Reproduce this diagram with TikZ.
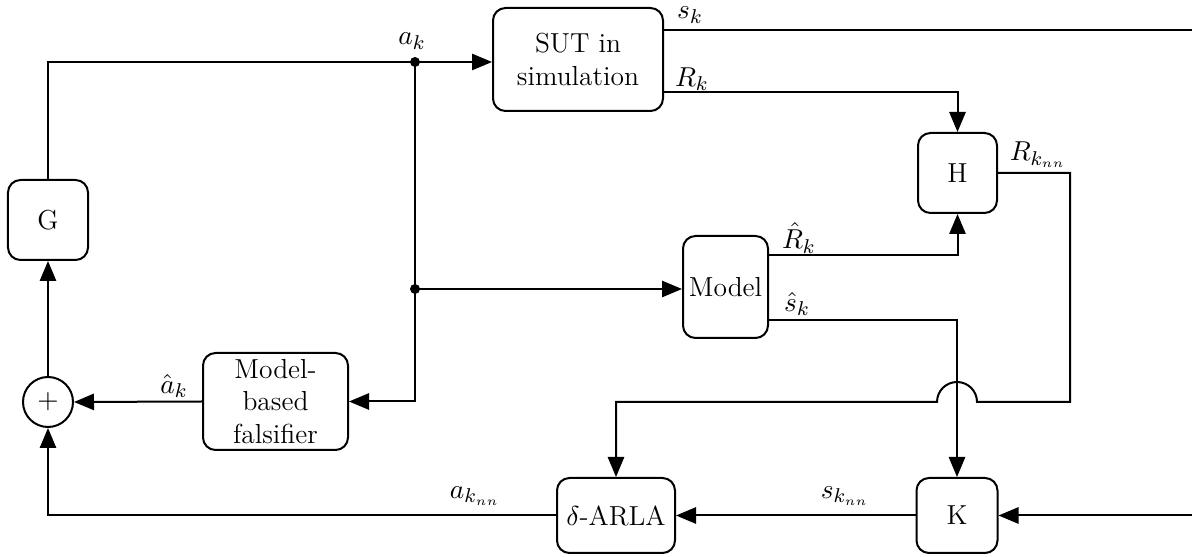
\documentclass[tikz,border=0pt]{standalone}
\usetikzlibrary{arrows.meta,calc}
\begin{document}
\begin{tikzpicture}[x=0.4pt,y=-0.4pt,font=\fontsize{11}{13}\selectfont,
  blk/.style={draw,line width=0.8pt,rounded corners=5pt,align=center,inner sep=1pt},
  sumc/.style={draw,line width=0.8pt,circle,minimum size=20pt,inner sep=0pt},
  wire/.style={line width=0.8pt},
  arr/.style={wire,-{Triangle[length=8pt,width=6.5pt]}},
  dotn/.style={circle,fill,inner sep=0pt,minimum size=4pt},
  lbl/.style={inner sep=0pt}]
\useasboundingbox (0,0) rectangle (1192,557);
% nodes
\node[blk,minimum width=68pt,minimum height=41.2pt] (sut) at (578,59.5) {SUT in\\simulation};
\node[blk,minimum width=31.6pt,minimum height=32pt] (h) at (957.5,173) {H};
\node[blk,minimum width=32pt,minimum height=32pt] (g) at (48,220) {G};
\node[blk,minimum width=34pt,minimum height=40.8pt] (model) at (725.5,287) {Model};
\node[sumc] (sum) at (48,402) {$+$};
\node[blk,minimum width=58pt,minimum height=38.8pt] (fals) at (275.5,401.5) {Model-\\based\\falsifier};
\node[blk,minimum width=47.2pt,minimum height=30pt] (arla) at (616,515.5) {$\delta$-ARLA};
\node[blk,minimum width=32.4pt,minimum height=30pt] (k) at (957,515.5) {K};
% helper coordinates
\node[dotn] (d1) at (415,62) {};
\node[dotn] (d2) at (415,289) {};
\coordinate (ya) at (0,62);
\coordinate (ys) at (0,30);
\coordinate (yr) at (0,92);
\coordinate (yrh) at (0,255);
\coordinate (ysh) at (0,320);
\coordinate (yf) at (0,402);
\coordinate (xr) at (1070,0);
\coordinate (xe) at (1198,0);
\coordinate (xc) at (957,0);
\coordinate (xl) at (616,0);
% connectors
\draw[wire] (g.north) |- (d1.center);
\draw[arr] (d1.center) -- (sut.west |- ya);
\draw[wire] (d1.center) -- (d2.center);
\draw[arr] (d2.center) |- (fals.east);
\draw[arr] (d2.center) -- (model.west |- d2);
\draw[arr] (fals.west) -- (sum.east);
\draw[arr] (sum.north) -- (g.south);
\draw[arr] (arla.west) -| (sum.south);
\draw[arr] (k.west) -- (arla.east);
\draw[arr] (sut.east |- yr) -| (h.north);
\draw[arr] (model.east |- yrh) -| (h.south);
\draw[arr] (model.east |- ysh) -| (k.north);
\draw[arr] (sut.east |- ys) -- (xe |- ys) -- (xe |- k) -- (k.east);
\draw[arr] (h.east) -| (xr |- yf) -- ($(xc |- yf)+(20,0)$) arc[start angle=0,end angle=180,radius=8pt] -- (xl |- yf) -- (arla.north);
% labels
\node[lbl] at (412,41) {$a_k$};
\node[lbl] at (690,15) {$s_k$};
\node[lbl] at (692,79) {$R_k$};
\node[lbl] at (1038,155) {$R_{k_{nn}}$};
\node[lbl] at (799,238) {$\hat{R}_k$};
\node[lbl] at (797,304) {$\hat{s}_k$};
\node[lbl] at (174,386) {$\hat{a}_k$};
\node[lbl] at (475,496) {$a_{k_{nn}}$};
\node[lbl] at (845,496) {$s_{k_{nn}}$};
\end{tikzpicture}
\end{document}
